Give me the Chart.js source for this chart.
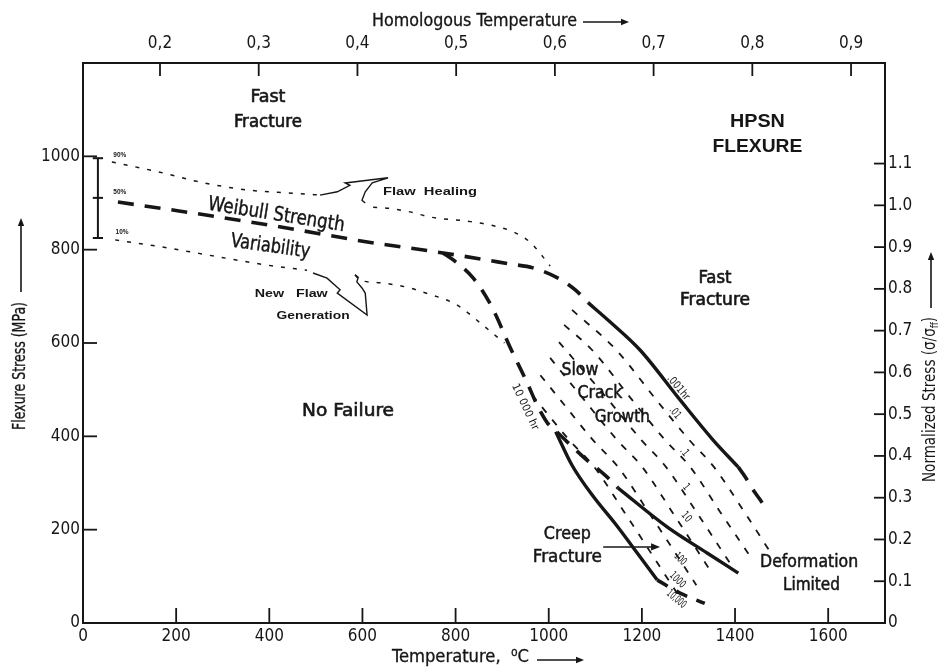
<!DOCTYPE html>
<html lang="en">
<head>
  <meta charset="UTF-8" />
  <title>HPSN Flexure – fracture mechanism map</title>

  <!-- Chart.js -->
  <script src="https://cdn.jsdelivr.net/npm/chart.js"></script>

  <style>
    html, body { margin: 0; padding: 0; background: #fff; }
    #wrap { width: 945px; height: 672px; }
  </style>
</head>
<body>
<div id="wrap"><canvas id="map" width="945" height="672"></canvas></div>

<script>
  const NARROW = "'Liberation Sans Narrow', 'DejaVu Sans Condensed', 'Arial Narrow', 'Liberation Sans', sans-serif";
  const SANS = "'Liberation Sans', Arial, sans-serif";
  const INK = '#161616';

  // axes
  const tempTicks   = [0, 200, 400, 600, 800, 1000, 1200, 1400, 1600];
  const stressTicks = [0, 200, 400, 600, 800, 1000];
  const normTicks   = [0, 0.1, 0.2, 0.3, 0.4, 0.5, 0.6, 0.7, 0.8, 0.9, 1.0, 1.1];
  const homTicks    = [0.2, 0.3, 0.4, 0.5, 0.6, 0.7, 0.8, 0.9];
  const T_MAX = 1722, S_MAX = 1200, S_REF = 895, H_MIN = 0.122, H_MAX = 0.9344;

  // Weibull strength band (°C, MPa)
  const w90aT = [62, 165, 251, 352, 451, 509];
  const w90aS = [988, 966, 945, 928, 921, 917];
  const w90bT = [623, 653, 702, 745, 825, 874, 924, 960, 988, 1003];
  const w90bS = [891, 889, 881, 870, 861, 853, 838, 816, 784, 765];
  const w50T  = [75, 206, 410, 614, 773, 919, 966, 1020, 1057, 1085];
  const w50S  = [902, 883, 851, 816, 793, 769, 761, 739, 714, 686];
  const w10aT = [69, 180, 294, 395, 481];
  const w10aS = [821, 804, 784, 767, 756];
  const w10bT = [584, 595, 638, 702, 730, 795, 810, 853, 889, 905];
  const w10bS = [746, 735, 729, 718, 709, 686, 677, 643, 613, 600];

  // error bar at the left edge
  const barT = 32, barLo = 825, barMid = 911, barHi = 996;

  // fast fracture boundary (.001 hr)
  const ffT   = [1085, 1132, 1196, 1282, 1353, 1407];
  const ffS   = [686, 645, 585, 478, 392, 334];
  const ffExT = [1407, 1422, 1439, 1454, 1471];
  const ffExS = [334, 313, 285, 264, 238];

  // slow crack growth / no failure (10 000 hr) and SCG / creep
  const scgT = [773, 795, 838, 878, 917, 954, 977, 997, 1020, 1074, 1125, 1149];
  const scgS = [793, 778, 739, 677, 591, 514, 463, 429, 407, 356, 313, 289];
  const scT  = [1149, 1254, 1340, 1407];
  const scS  = [289, 206, 150, 107];

  // creep / no failure
  const cnT   = [1015, 1050, 1095, 1145, 1190, 1233];
  const cnS   = [410, 338, 272, 210, 150, 92];
  const cnExT = [1233, 1282, 1335];
  const cnExS = [92, 64, 42];

  // time-to-failure lines
  const iso01T   = [1050, 1145, 1231, 1302, 1355, 1420, 1473];
  const iso01S   = [671, 585, 478, 392, 334, 238, 156];
  const iso1T    = [1033, 1093, 1179, 1250, 1304, 1368, 1435];
  const iso1S    = [639, 585, 478, 392, 334, 238, 139];
  const isoH1T   = [1022, 1128, 1199, 1252, 1317, 1392];
  const isoH1S   = [602, 478, 392, 334, 238, 124];
  const iso10T   = [1003, 1076, 1147, 1201, 1265, 1353];
  const iso10S   = [568, 478, 392, 334, 238, 103];
  const iso100T  = [982, 1025, 1095, 1149, 1214, 1317];
  const iso100S  = [531, 478, 392, 334, 238, 81];
  const iso1000T = [964, 1044, 1098, 1162, 1278];
  const iso1000S = [489, 392, 334, 238, 60];

  // hand drawn arrows
  const healT = [509, 546, 573, 563, 655, 621, 606, 599, 606];
  const healS = [917, 924, 938, 943, 954, 943, 924, 906, 900];
  const genT  = [494, 524, 552, 546, 610, 606, 599, 588, 591, 584];
  const genS  = [750, 739, 714, 707, 660, 707, 718, 731, 741, 746];
  const creepArrowT = [1117, 1239];
  const creepArrowS = [163, 163];

  const notes = [
    { text: 'Fast', t: 397, s: 1127, size: 18, w: 35, ink: 0.6 },
    { text: 'Fracture', t: 397, s: 1073, size: 18, w: 68, ink: 0.6 },
    { text: 'HPSN', t: 1448, s: 1073, size: 18, w: 55, bold: true, family: SANS },
    { text: 'FLEXURE', t: 1448, s: 1020, size: 18, w: 90, bold: true, family: SANS },
    { text: 'Fast', t: 1357, s: 739, size: 18, w: 33, ink: 0.6 },
    { text: 'Fracture', t: 1357, s: 692, size: 18, w: 70, ink: 0.6 },
    { text: 'Slow', t: 1067, s: 542, size: 18, w: 37, ink: 0.5 },
    { text: 'Crack', t: 1110, s: 493, size: 18, w: 45, ink: 0.5 },
    { text: 'Growth', t: 1158, s: 441, size: 18, w: 55, ink: 0.5 },
    { text: 'No Failure', t: 569, s: 454, size: 18, w: 92, ink: 0.6 },
    { text: 'Creep', t: 1040, s: 189, size: 18, w: 47, ink: 0.5 },
    { text: 'Fracture', t: 1040, s: 141, size: 18, w: 69, ink: 0.5 },
    { text: 'Deformation', t: 1559, s: 129, size: 17, w: 98, ink: 0.5 },
    { text: 'Limited', t: 1564, s: 81, size: 17, w: 57, ink: 0.5 },
    { text: 'Weibull Strength', t: 415, s: 874, size: 20, w: 138, rot: 9, ink: 0.4 },
    { text: 'Variability', t: 402, s: 806, size: 20, w: 80, rot: 8, ink: 0.4 },
    { text: 'Flaw  Healing', t: 745, s: 924, size: 10, w: 94, bold: true, family: SANS },
    { text: 'New   Flaw', t: 447, s: 705, size: 10, w: 73, bold: true, family: SANS },
    { text: 'Generation', t: 494, s: 658, size: 10, w: 73, bold: true, family: SANS },
    { text: '90%', t: 79, s: 1003, size: 8, w: 13, bold: true, family: SANS },
    { text: '50%', t: 79, s: 924, size: 8, w: 13, bold: true, family: SANS },
    { text: '10%', t: 84, s: 838, size: 8, w: 13, bold: true, family: SANS },
    { text: '.001hr', t: 1278, s: 504, size: 11, w: 29, rot: 50 },
    { text: '.01', t: 1271, s: 450, size: 11, w: 12, rot: 50 },
    { text: '.1', t: 1291, s: 366, size: 11, w: 8, rot: 50 },
    { text: '1', t: 1295, s: 291, size: 11, w: 5, rot: 50 },
    { text: '10', t: 1295, s: 227, size: 11, w: 10, rot: 50 },
    { text: '100', t: 1282, s: 137, size: 11, w: 13, rot: 45 },
    { text: '1000', t: 1276, s: 92, size: 11, w: 18, rot: 45 },
    { text: '10,000', t: 1274, s: 51, size: 11, w: 22, rot: 40 },
    { text: '10 000 hr', t: 949, s: 463, size: 11, w: 50, rot: 65 }
  ];

  const pts = (T, S) => T.map((t, i) => ({ x: t, y: S[i] }));
  function line(T, S, style) {
    return Object.assign({
      data: pts(T, S), showLine: true, pointRadius: 0, borderColor: INK,
      borderWidth: 1.5, fill: false, cubicInterpolationMode: 'monotone'
    }, style);
  }
  const heavyDash  = { borderWidth: 3.6, borderDash: [16, 11] };
  const heavySolid = { borderWidth: 3.4 };
  const thinDash   = { borderWidth: 1.8, borderDash: [7, 9] };
  const dotted     = { borderWidth: 1.5, borderDash: [4, 8] };
  const outline    = { borderWidth: 1.4, cubicInterpolationMode: 'default', tension: 0 };

  function drawText(ctx, px, py, l) {
    ctx.save();
    ctx.font = (l.italic ? 'italic ' : '') + (l.bold ? 'bold ' : '') + l.size + 'px ' + (l.family || NARROW);
    const m = ctx.measureText(l.text).width;
    const sx = l.w ? l.w / m : 1;
    ctx.translate(px, py);
    ctx.rotate((l.rot || 0) * Math.PI / 180);
    ctx.scale(sx, 1);
    ctx.textAlign = l.align || 'center';
    ctx.textBaseline = 'middle';
    ctx.fillStyle = INK;
    ctx.fillText(l.text, 0, 0);
    if (l.ink) {
      // scanned print looks a little heavier than the plain face
      ctx.strokeStyle = INK; ctx.lineWidth = l.ink; ctx.lineJoin = 'round';
      ctx.strokeText(l.text, 0, 0);
    }
    ctx.restore();
  }

  function arrow(ctx, x1, y1, x2, y2, head, width) {
    const a = Math.atan2(y2 - y1, x2 - x1);
    ctx.save();
    ctx.strokeStyle = INK; ctx.fillStyle = INK; ctx.lineWidth = width || 1.6;
    ctx.beginPath(); ctx.moveTo(x1, y1);
    ctx.lineTo(x2 - head * 0.8 * Math.cos(a), y2 - head * 0.8 * Math.sin(a)); ctx.stroke();
    ctx.beginPath(); ctx.moveTo(x2, y2);
    ctx.lineTo(x2 - head * Math.cos(a) + head * 0.4 * Math.sin(a), y2 - head * Math.sin(a) - head * 0.4 * Math.cos(a));
    ctx.lineTo(x2 - head * Math.cos(a) - head * 0.4 * Math.sin(a), y2 - head * Math.sin(a) + head * 0.4 * Math.cos(a));
    ctx.closePath(); ctx.fill();
    ctx.restore();
  }

  // tick marks point into the plot, like the original figure
  const innerTicks = {
    id: 'innerTicks',
    afterDraw(chart) {
      const { ctx, chartArea: a, scales } = chart;
      ctx.save();
      ctx.strokeStyle = INK; ctx.lineWidth = 1.8;
      const seg = (x1, y1, x2, y2) => { ctx.beginPath(); ctx.moveTo(x1, y1); ctx.lineTo(x2, y2); ctx.stroke(); };
      tempTicks.filter(v => v > 0).forEach(v => { const p = scales.x.getPixelForValue(v); seg(p, a.bottom, p, a.bottom - 15); });
      homTicks.forEach(v => { const p = scales.xTop.getPixelForValue(v); seg(p, a.top, p, a.top + 13); });
      stressTicks.filter(v => v > 0).forEach(v => { const p = scales.y.getPixelForValue(v); seg(a.left, p, a.left + 14, p); });
      normTicks.filter(v => v > 0).forEach(v => { const p = scales.yR.getPixelForValue(v); seg(a.right, p, a.right - 11, p); });
      ctx.restore();
    }
  };

  const annotations = {
    id: 'annotations',
    afterDatasetsDraw(chart) {
      const { ctx, scales: { x, y } } = chart;
      notes.forEach(l => drawText(ctx, x.getPixelForValue(l.t), y.getPixelForValue(l.s), l));

      // creep fracture pointer
      arrow(ctx, x.getPixelForValue(creepArrowT[0]), y.getPixelForValue(creepArrowS[0]),
                 x.getPixelForValue(creepArrowT[1]), y.getPixelForValue(creepArrowS[1]), 9, 1.6);

      // axis titles
      drawText(ctx, 372, 22, { text: 'Homologous Temperature', size: 17, w: 205, align: 'left', ink: 0.3 });
      arrow(ctx, 583, 22, 629, 22, 8, 1.6);
      drawText(ctx, 392, 658, { text: 'Temperature,  \u2070C', size: 17, w: 137, align: 'left', ink: 0.3 });
      arrow(ctx, 537, 660, 584, 660, 8, 1.6);
      drawText(ctx, 21, 430, { text: 'Flexure Stress (MPa)', size: 17, w: 128, align: 'left', rot: -90, ink: 0.3 });
      arrow(ctx, 21, 292, 21, 218, 8, 1.6);

      // right title with subscript
      ctx.save();
      ctx.translate(931, 482);
      ctx.rotate(-Math.PI / 2);
      ctx.fillStyle = INK; ctx.textBaseline = 'middle'; ctx.textAlign = 'left';
      const big = '17px ' + NARROW, small = '11px ' + NARROW;
      ctx.font = big; const w1 = ctx.measureText('Normalized Stress (\u03c3/\u03c3').width;
      ctx.font = small; const w2 = ctx.measureText('ff').width;
      ctx.font = big; const w3 = ctx.measureText(')').width;
      const sx = 165 / (w1 + w2 + w3);
      ctx.scale(sx, 1);
      ctx.font = big; ctx.fillText('Normalized Stress (\u03c3/\u03c3', 0, 0);
      ctx.font = small; ctx.fillText('ff', w1, 4);
      ctx.font = big; ctx.fillText(')', w1 + w2, 0);
      ctx.restore();
      arrow(ctx, 931, 308, 931, 252, 8, 1.6);
    }
  };

  const tickFont = { family: NARROW, size: 17 };
  const axisBorder = { display: true, color: INK, width: 2 };
  const noGrid = { display: true, drawOnChartArea: false, drawTicks: false };

  new Chart(document.getElementById('map'), {
    type: 'scatter',
    data: {
      datasets: [
        line(w90aT, w90aS, dotted),
        line(w90bT, w90bS, dotted),
        line(w10aT, w10aS, dotted),
        line(w10bT, w10bS, dotted),
        line(w50T, w50S, heavyDash),
        line(ffT, ffS, heavySolid),
        line(ffExT, ffExS, heavyDash),
        line(scgT, scgS, heavyDash),
        line(scT, scS, heavySolid),
        line(cnT, cnS, heavySolid),
        line(cnExT, cnExS, { borderWidth: 3.6, borderDash: [12, 10] }),
        line(iso01T, iso01S, thinDash),
        line(iso1T, iso1S, thinDash),
        line(isoH1T, isoH1S, thinDash),
        line(iso10T, iso10S, thinDash),
        line(iso100T, iso100S, thinDash),
        line(iso1000T, iso1000S, thinDash),
        line(healT, healS, outline),
        line(genT, genS, outline),
        line([barT, barT], [barLo, barHi], { borderWidth: 2 }),
        line([barT - 11, barT + 11], [barHi, barHi], { borderWidth: 2 }),
        line([barT - 11, barT + 11], [barMid, barMid], { borderWidth: 2 }),
        line([barT - 11, barT + 11], [barLo, barLo], { borderWidth: 2 })
      ]
    },
    options: {
      responsive: false,
      animation: false,
      events: [],
      layout: { padding: 0 },
      plugins: { legend: { display: false }, tooltip: { enabled: false } },
      scales: {
        x: {
          type: 'linear', position: 'bottom', min: 0, max: T_MAX,
          afterFit: s => { s.height = 49; },
          afterBuildTicks: s => { s.ticks = tempTicks.map(v => ({ value: v })); },
          grid: noGrid, border: axisBorder,
          ticks: { padding: 3, color: INK, font: tickFont, maxRotation: 0, autoSkip: false,
                   callback: v => String(v) }
        },
        xTop: {
          type: 'linear', position: 'top', min: H_MIN, max: H_MAX,
          afterFit: s => { s.height = 63; },
          afterBuildTicks: s => { s.ticks = homTicks.map(v => ({ value: v })); },
          grid: noGrid, border: axisBorder,
          ticks: { padding: 9, color: INK, font: tickFont, maxRotation: 0, autoSkip: false,
                   callback: v => v.toFixed(1).replace('.', ',') }
        },
        y: {
          type: 'linear', position: 'left', min: 0, max: S_MAX,
          afterFit: s => { s.width = 83; },
          afterBuildTicks: s => { s.ticks = stressTicks.map(v => ({ value: v })); },
          grid: noGrid, border: axisBorder,
          ticks: { padding: 3, color: INK, font: tickFont, autoSkip: false,
                   callback: v => String(v) }
        },
        yR: {
          type: 'linear', position: 'right', min: 0, max: S_MAX / S_REF,
          afterFit: s => { s.width = 60; },
          afterBuildTicks: s => { s.ticks = normTicks.map(v => ({ value: v })); },
          grid: noGrid, border: axisBorder,
          ticks: { padding: 3, color: INK, font: tickFont, autoSkip: false,
                   callback: v => (v === 0 ? '0' : v.toFixed(1)) }
        }
      }
    },
    plugins: [innerTicks, annotations]
  });
</script>
</body>
</html>
